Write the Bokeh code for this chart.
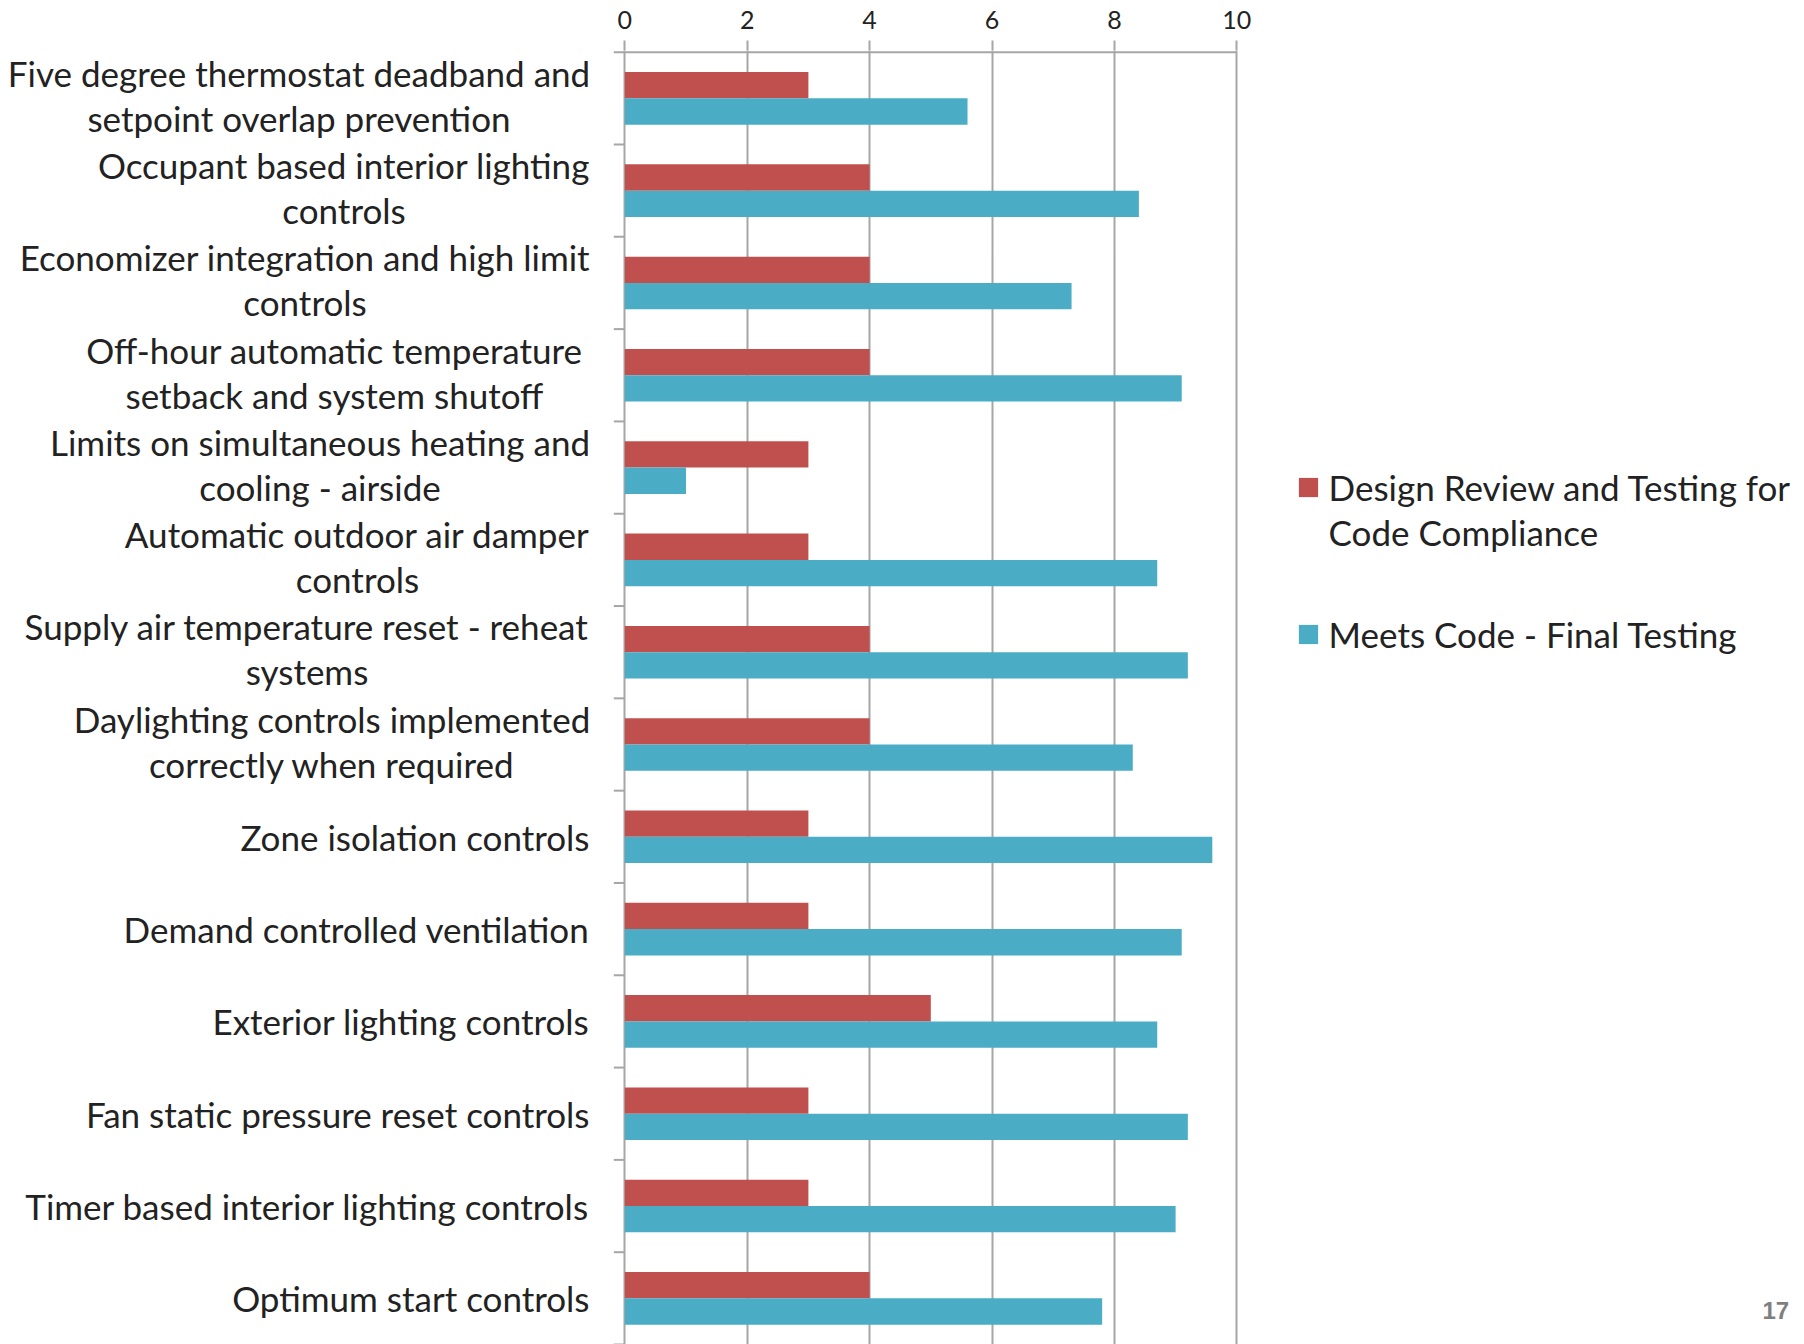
from bokeh.plotting import figure
from bokeh.models import ColumnDataSource, Range1d, FixedTicker, Legend, LegendItem, Label
from bokeh.core.properties import value
from bokeh.embed import file_html
from bokeh.resources import INLINE

# Control measures, top to bottom
categories = [
    "Five degree thermostat deadband and\nsetpoint overlap prevention",
    "Occupant based interior lighting\ncontrols",
    "Economizer integration and high limit\ncontrols",
    "Off-hour automatic temperature\nsetback and system shutoff",
    "Limits on simultaneous heating and\ncooling - airside",
    "Automatic outdoor air damper\ncontrols",
    "Supply air temperature reset - reheat\nsystems",
    "Daylighting controls implemented\ncorrectly when required",
    "Zone isolation controls",
    "Demand controlled ventilation",
    "Exterior lighting controls",
    "Fan static pressure reset controls",
    "Timer based interior lighting controls",
    "Optimum start controls",
]
design_review = [3, 4, 4, 4, 3, 3, 4, 4, 3, 3, 5, 3, 3, 4]
meets_code = [5.6, 8.4, 7.3, 9.1, 1.0, 8.7, 9.2, 8.3, 9.6, 9.1, 8.7, 9.2, 9.0, 7.8]
x_ticks = [0, 2, 4, 6, 8, 10]

series_names = ["Design Review and Testing for\nCode Compliance", "Meets Code - Final Testing"]
series_colors = ["#C0504D", "#4BACC6"]

FONT = "Lato"
TEXT_COLOR = "#222222"
GRID_COLOR = "#A6A6A6"
LABEL_SIZE = 35

# canvas geometry (px)
W, H = 1804, 1344
X0_PX = 624.3          # where value 0 sits
PX_PER_UNIT = 61.2
TOP_PX = 50            # frame top
AXIS_Y_PX = 51.7       # value axis line
LABEL_RIGHT_PX = 589   # right edge of category labels
TICK_LEN_PX = 11

n = len(categories)


def px_to_x(px):
    return (px - X0_PX) / PX_PER_UNIT


band_px = (H - AXIS_Y_PX) / n
y_top = -(AXIS_Y_PX - TOP_PX) / band_px

# approximate rendered width (px) of the widest line of each wrapped label,
# used to centre the two lines under one another
wrap_widths = {0: 581, 1: 491, 2: 569, 3: 510, 4: 539, 5: 464, 6: 565, 7: 515}
wrap_shift = -0.035   # two-line blocks sit a touch higher in the band

centers = [i + 0.5 for i in range(n)]
bar_h = 0.285

src = ColumnDataSource(dict(
    y_red=[c - bar_h / 2 for c in centers],
    y_blue=[c + bar_h / 2 for c in centers],
    design=design_review,
    meets=meets_code,
))

p = figure(
    width=W, height=H,
    x_range=Range1d(px_to_x(0), px_to_x(W)), y_range=Range1d(n, y_top),
    x_axis_location="above", y_axis_location=None,
    min_border_left=0, min_border_right=0, min_border_top=TOP_PX, min_border_bottom=0,
    output_backend="svg", toolbar_location=None,
)
p.outline_line_color = None
p.background_fill_color = "white"
p.border_fill_color = "white"

p.xgrid.ticker = FixedTicker(ticks=x_ticks)
p.xgrid.grid_line_color = GRID_COLOR
p.xgrid.grid_line_width = 2
p.ygrid.grid_line_color = None

# value axis on top: only the ticks and labels, line drawn over the data span
xa = p.xaxis[0]
xa.ticker = FixedTicker(ticks=x_ticks)
xa.axis_line_color = None
xa.major_tick_line_color = GRID_COLOR
xa.major_tick_line_width = 2
xa.major_tick_out = 10
xa.major_tick_in = 0
xa.minor_tick_line_color = None
xa.major_label_text_font = FONT
xa.major_label_text_font_size = "25px"
xa.major_label_text_color = TEXT_COLOR
xa.major_label_standoff = 12

p.segment(x0=[min(x_ticks)], y0=[0], x1=[max(x_ticks)], y1=[0],
          line_color=GRID_COLOR, line_width=2)

# category ticks at band boundaries
bounds = list(range(n + 1))
tick_x0 = px_to_x(X0_PX - TICK_LEN_PX)
p.segment(x0=[tick_x0] * len(bounds), y0=bounds, x1=[0] * len(bounds), y1=bounds,
          line_color=GRID_COLOR, line_width=2)

r_red = p.hbar(y="y_red", left=0, right="design", height=bar_h, source=src,
               fill_color=series_colors[0], line_color=None)
r_blue = p.hbar(y="y_blue", left=0, right="meets", height=bar_h, source=src,
                fill_color=series_colors[1], line_color=None)

# category labels
single_x, single_y, single_t = [], [], []
wrap_x, wrap_y, wrap_t = [], [], []
for i, (c, lab) in enumerate(zip(centers, categories)):
    if "\n" in lab:
        wrap_x.append(px_to_x(LABEL_RIGHT_PX - wrap_widths[i] / 2))
        wrap_y.append(c + wrap_shift)
        wrap_t.append(lab)
    else:
        single_x.append(px_to_x(LABEL_RIGHT_PX))
        single_y.append(c)
        single_t.append(lab)

common = dict(text_font=value(FONT), text_font_size=f"{LABEL_SIZE}px",
              text_color=TEXT_COLOR, text_baseline="middle", text_line_height=1.07)
p.text(x=single_x, y=single_y, text=single_t, text_align="right", **common)
p.text(x=wrap_x, y=wrap_y, text=wrap_t, text_align="center", **common)

# legend: the swatch sits beside the first line of a wrapped entry,
# so each entry is laid out line by line
legend_style = dict(
    padding=0, margin=0,
    glyph_width=24, glyph_height=24, label_standoff=9,
    border_line_color=None, background_fill_alpha=0,
    label_text_font=FONT, label_text_font_size=f"{LABEL_SIZE}px", label_text_color=TEXT_COLOR,
)
first_lines = series_names[0].split("\n")
legend_a = Legend(
    items=[LegendItem(label=first_lines[0], renderers=[r_red])] +
          [LegendItem(label=t, renderers=[]) for t in first_lines[1:]],
    location=(1295.6, 791), spacing=3, **legend_style,
)
legend_b = Legend(
    items=[LegendItem(label=series_names[1], renderers=[r_blue])],
    location=(1295.6, 689), **legend_style,
)
p.add_layout(legend_a, "center")
p.add_layout(legend_b, "center")

page_no = Label(x=1762, y=34, x_units="screen", y_units="screen", text="17",
                text_font="Liberation Sans", text_font_style="bold",
                text_font_size="24px", text_color="#7F7F7F",
                text_baseline="alphabetic")
p.add_layout(page_no)

open("out.html", "w").write(file_html(p, INLINE))
